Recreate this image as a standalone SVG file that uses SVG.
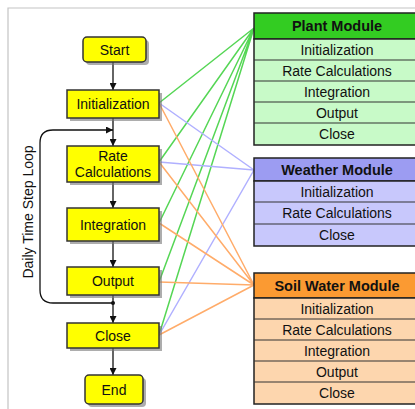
<svg xmlns="http://www.w3.org/2000/svg" width="415" height="409" viewBox="0 0 415 409">
<defs>
<marker id="ah" viewBox="0 0 10 10" refX="10" refY="5" markerWidth="7" markerHeight="7" markerUnits="userSpaceOnUse" orient="auto"><path d="M0,0 L10,5 L0,10 z" fill="#111"/></marker>
<style>
text{font-family:"Liberation Sans",Arial,sans-serif;font-size:14px;fill:#111;text-anchor:middle}
.hd{font-weight:bold;font-size:14.5px}
.fb{fill:#ffff00;stroke:#333;stroke-width:1.5}
.sh{fill:#777;opacity:0.6}
.ar{stroke:#111;stroke-width:1.3;fill:none;marker-end:url(#ah)}
.g{stroke:#55d655;stroke-width:1.5;fill:none}
.b{stroke:#b0b0ff;stroke-width:1.5;fill:none}
.o{stroke:#ffac6a;stroke-width:1.5;fill:none}
.mb{stroke:#222;stroke-width:1.5}
.div{stroke:#333;stroke-width:1}
</style>
</defs>
<rect width="415" height="409" fill="#fff"/>
<path d="M8,409 V8 H415" fill="none" stroke="#c4c4c4" stroke-width="1.2"/>

<g id="connectors">
<path class="g" d="M159,103 L254,28 M159,162 L254,28 M159,223 L254,28 M159,282 L254,28 M159,335 L254,28"/>
<path class="b" d="M159,103 L254,170 M159,162 L254,170 M159,335 L254,170"/>
<path class="o" d="M159,103 L254,285 M159,162 L254,285 M159,223 L254,285 M159,282 L254,285 M159,335 L254,285"/>
<path class="ar" d="M113,62 V90"/>
<path class="ar" d="M113,118 V146"/>
<path class="ar" d="M113,182 V208"/>
<path class="ar" d="M113,241 V267"/>
<path class="ar" d="M113,295 V323"/>
<path class="ar" d="M113,348 V375"/>
<path class="ar" d="M113,303 H53 Q40,303 40,290 V143 Q40,130 53,130 H113" stroke-width="1.1" stroke="#444"/>
<circle cx="113" cy="303" r="2" fill="#111"/>
</g>

<g id="loop-label"><text x="33" y="212" transform="rotate(-90 33 212)" font-size="13.5" fill="#222">Daily Time Step Loop</text></g>

<g id="start"><rect class="sh" x="86" y="40" width="63" height="25" rx="4"/><rect class="fb" x="83" y="37" width="63" height="25" rx="4"/><text x="114.5" y="54.5">Start</text></g>
<g id="init"><rect class="sh" x="70" y="93" width="92" height="28"/><rect class="fb" x="67" y="90" width="92" height="28"/><text x="113" y="109">Initialization</text></g>
<g id="rate"><rect class="sh" x="70" y="149" width="92" height="36"/><rect class="fb" x="67" y="146" width="92" height="36"/><text x="113" y="161">Rate</text><text x="113" y="177">Calculations</text></g>
<g id="integration"><rect class="sh" x="70" y="211" width="92" height="33"/><rect class="fb" x="67" y="208" width="92" height="33"/><text x="113" y="229.5">Integration</text></g>
<g id="output"><rect class="sh" x="70" y="270" width="92" height="28"/><rect class="fb" x="67" y="267" width="92" height="28"/><text x="113" y="286">Output</text></g>
<g id="close"><rect class="sh" x="70" y="326" width="92" height="25"/><rect class="fb" x="67" y="323" width="92" height="25"/><text x="113" y="340.5">Close</text></g>
<g id="end"><rect class="sh" x="88" y="378" width="58" height="29" rx="4"/><rect class="fb" x="85" y="375" width="58" height="29" rx="4"/><text x="114" y="394.5">End</text></g>

<g id="plant-module">
<rect class="mb" x="254" y="13" width="170" height="26" fill="#33cc22"/>
<rect class="mb" x="254" y="39" width="170" height="106" fill="#c8fac8"/>
<path class="div" d="M254,60 H424 M254,81 H424 M254,102 H424 M254,123 H424"/>
<text class="hd" x="337" y="31">Plant Module</text>
<text x="337" y="54.5">Initialization</text>
<text x="337" y="75.5">Rate Calculations</text>
<text x="337" y="96.5">Integration</text>
<text x="337" y="117.5">Output</text>
<text x="337" y="138.5">Close</text>
</g>

<g id="weather-module">
<rect class="mb" x="254" y="158" width="170" height="23" fill="#9c9cf2"/>
<rect class="mb" x="254" y="181" width="170" height="65" fill="#c8c8fc"/>
<path class="div" d="M254,202 H424 M254,224 H424"/>
<text class="hd" x="337" y="174.5">Weather Module</text>
<text x="337" y="196.5">Initialization</text>
<text x="337" y="217.5">Rate Calculations</text>
<text x="337" y="239.5">Close</text>
</g>

<g id="soil-water-module">
<rect class="mb" x="254" y="273" width="170" height="25" fill="#fb9a32"/>
<rect class="mb" x="254" y="298" width="170" height="106" fill="#fdd6ae"/>
<path class="div" d="M254,319 H424 M254,340 H424 M254,361 H424 M254,382 H424"/>
<text class="hd" x="337" y="290.5">Soil Water Module</text>
<text x="337" y="313.5">Initialization</text>
<text x="337" y="334.5">Rate Calculations</text>
<text x="337" y="355.5">Integration</text>
<text x="337" y="376.5">Output</text>
<text x="337" y="398">Close</text>
</g>
</svg>
